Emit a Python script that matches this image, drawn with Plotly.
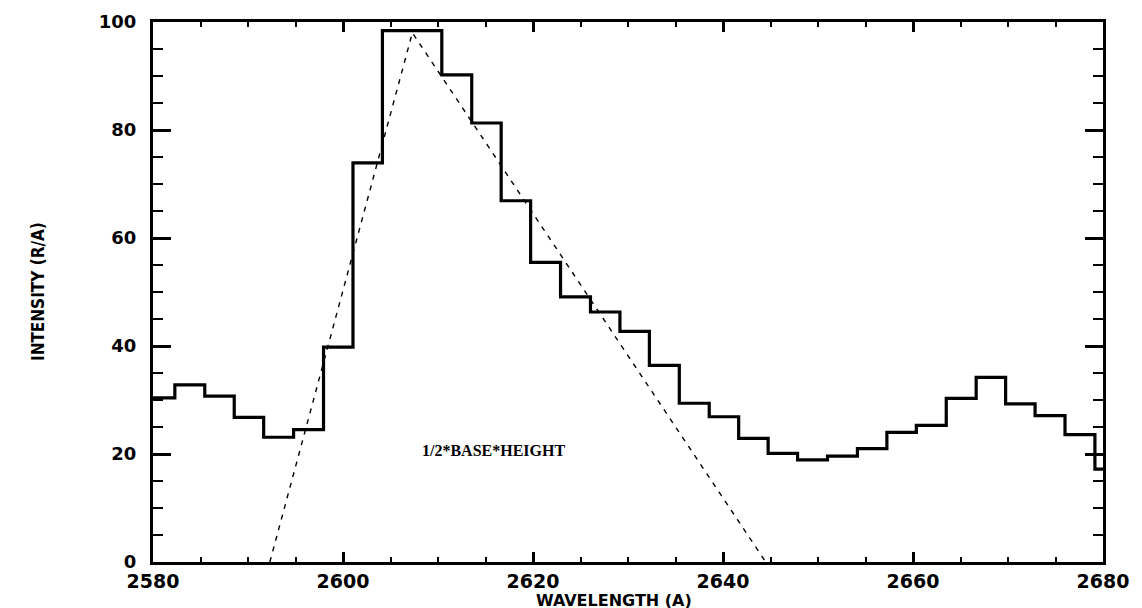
import plotly.graph_objects as go

# Histogram bin centres (Angstrom) and intensities (R/A)
wavelength = [2580.7, 2583.9, 2587.0, 2590.1, 2593.2, 2596.4, 2599.5, 2602.6,
              2605.7, 2608.8, 2612.0, 2615.1, 2618.2, 2621.3, 2624.5, 2627.6,
              2630.7, 2633.8, 2637.0, 2640.1, 2643.2, 2646.3, 2649.4, 2652.6,
              2655.7, 2658.8, 2661.9, 2665.1, 2668.2, 2671.3, 2674.4, 2677.6,
              2680.7]
intensity = [30.4, 32.8, 30.7, 26.8, 23.1, 24.5, 39.8, 73.9,
             98.4, 98.4, 90.2, 81.3, 66.9, 55.5, 49.1, 46.3,
             42.7, 36.4, 29.4, 26.9, 22.9, 20.1, 18.9, 19.6,
             21.0, 24.0, 25.3, 30.3, 34.2, 29.3, 27.1, 23.6,
             17.2]

# Triangle approximation (1/2*base*height)
tri_x = [2592.3, 2607.3, 2644.5]
tri_y = [0, 98, 0]

x_ticks = [2580, 2600, 2620, 2640, 2660, 2680]
y_ticks = [0, 20, 40, 60, 80, 100]

# bin edges from the centres (IDL psym=10 style histogram)
edges = [(wavelength[i] + wavelength[i + 1]) / 2 for i in range(len(wavelength) - 1)]
edges = [wavelength[0] - (edges[0] - wavelength[0])] + edges + \
        [wavelength[-1] + (wavelength[-1] - edges[-1])]
step_y = intensity + [intensity[-1]]

fig = go.Figure()
fig.add_trace(go.Scatter(x=edges, y=step_y, mode="lines", line_shape="hv",
                         line=dict(color="black", width=3.2), showlegend=False,
                         hoverinfo="skip"))
fig.add_trace(go.Scatter(x=tri_x, y=tri_y, mode="lines",
                         line=dict(color="black", width=1.4, dash="5px,6px"),
                         showlegend=False, hoverinfo="skip"))

xtickfont = dict(family="DejaVu Sans", size=19, color="black", weight=700)
ytickfont = dict(family="DejaVu Sans", size=18, color="black", weight=700)

fig.add_annotation(x=2615.8, y=20.6, text="1/2*BASE*HEIGHT", showarrow=False,
                   font=dict(family="Liberation Serif", size=16, color="black",
                             weight=700))
fig.add_annotation(x=2628.5, xref="x", y=-0.0705, yref="paper",
                   text="WAVELENGTH (A)", showarrow=False, yanchor="middle",
                   borderpad=0,
                   font=dict(family="DejaVu Sans", size=16, color="black",
                             weight=700))
fig.add_annotation(x=-0.121, xref="paper", y=0.5, yref="paper",
                   text="INTENSITY (R/A)", showarrow=False, textangle=-90,
                   xanchor="center", yanchor="middle",
                   font=dict(family="DejaVu Sans Condensed, DejaVu Sans", size=17,
                             color="black", weight=700))

fig.update_xaxes(range=[2580, 2680], tickvals=x_ticks, ticks="inside",
                 ticklen=10, tickwidth=2.5, tickcolor="black",
                 minor=dict(dtick=5, ticks="inside", ticklen=5, tickwidth=2,
                            tickcolor="black", showgrid=False),
                 showline=True, linewidth=3, linecolor="black", mirror="ticks",
                 showgrid=False, zeroline=False, tickfont=xtickfont,
                 ticklabelstandoff=0, automargin=False)
fig.update_yaxes(range=[0, 100], tickvals=y_ticks, ticks="inside",
                 ticklen=18, tickwidth=2.5, tickcolor="black",
                 minor=dict(dtick=5, ticks="inside", ticklen=10, tickwidth=2,
                            tickcolor="black", showgrid=False),
                 showline=True, linewidth=3, linecolor="black", mirror="ticks",
                 showgrid=False, zeroline=False, tickfont=ytickfont,
                 ticklabelstandoff=10, automargin=False)

fig.update_layout(width=1142, height=608, plot_bgcolor="white",
                  paper_bgcolor="white",
                  margin=dict(l=145, r=47, t=14, b=54))

fig.write_html("out.html")
